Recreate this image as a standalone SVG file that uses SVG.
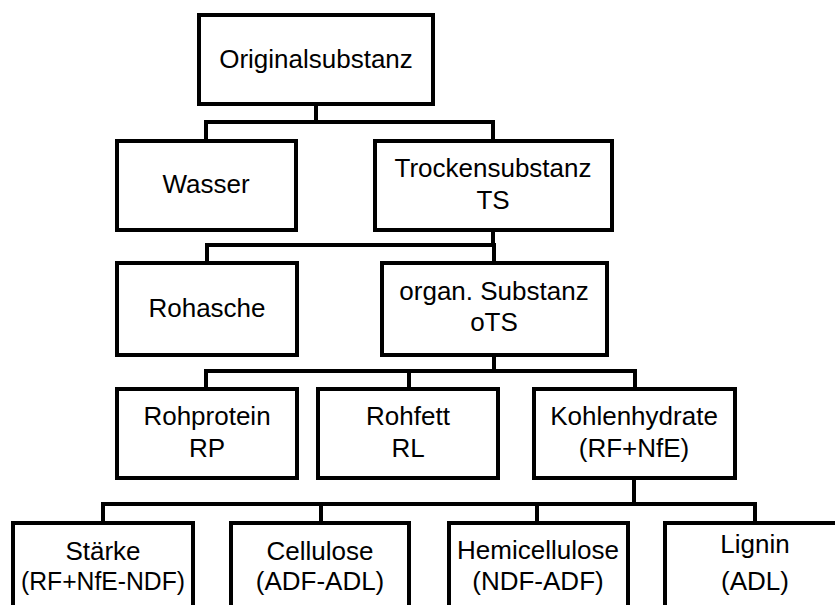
<svg xmlns="http://www.w3.org/2000/svg" width="835" height="605" viewBox="0 0 835 605">
<style>
.box{fill:#fff;stroke:#000;stroke-width:4;}
.con{fill:none;stroke:#000;stroke-width:4;stroke-linejoin:miter;}
text{font-family:"Liberation Sans",Arial,sans-serif;font-size:26px;fill:#000;text-anchor:middle;}
</style>
<rect width="835" height="605" fill="#fff"/>
<g id="connectors">
<path class="con" d="M316,104 V122 M206,141 V122 H493 V141"/>
<path class="con" d="M493,230 V245 M207,263 V245 H494 V263"/>
<path class="con" d="M494,355 V371 M206,389 V371 H635 V389 M409,371 V389"/>
<path class="con" d="M634,478 V504 M103,523 V504 H755 V523 M321,504 V523 M537,504 V523"/>
</g>
<g id="originalsubstanz"><rect class="box" x="199" y="15" width="234" height="89"/><text x="316" y="68">Originalsubstanz</text></g>
<g id="wasser"><rect class="box" x="117" y="141" width="179" height="89"/><text x="206" y="193">Wasser</text></g>
<g id="trockensubstanz"><rect class="box" x="375" y="141" width="237" height="89"/><text x="493" y="177">Trockensubstanz</text><text x="493" y="209">TS</text></g>
<g id="rohasche"><rect class="box" x="117" y="263" width="180" height="92"/><text x="207" y="317">Rohasche</text></g>
<g id="organ"><rect class="box" x="382" y="263" width="225" height="92"/><text x="494" y="300">organ. Substanz</text><text x="494" y="331">oTS</text></g>
<g id="rohprotein"><rect class="box" x="117" y="389" width="180" height="89"/><text x="207" y="425">Rohprotein</text><text x="207" y="457">RP</text></g>
<g id="rohfett"><rect class="box" x="318" y="389" width="180" height="89"/><text x="408" y="425">Rohfett</text><text x="408" y="457">RL</text></g>
<g id="kohlenhydrate"><rect class="box" x="534" y="389" width="201" height="89"/><text x="634" y="425">Kohlenhydrate</text><text x="634" y="457">(RF+NfE)</text></g>
<g id="staerke"><rect class="box" x="13" y="523" width="180" height="100"/><text x="103" y="560">Stärke</text><text x="103" y="590" textLength="164" lengthAdjust="spacingAndGlyphs">(RF+NfE-NDF)</text></g>
<g id="cellulose"><rect class="box" x="231" y="523" width="178" height="100"/><text x="320" y="560">Cellulose</text><text x="320" y="590">(ADF-ADL)</text></g>
<g id="hemicellulose"><rect class="box" x="449" y="523" width="179" height="100"/><text x="538" y="559">Hemicellulose</text><text x="538" y="590">(NDF-ADF)</text></g>
<g id="lignin"><rect class="box" x="665" y="523" width="190" height="100"/><text x="755" y="553">Lignin</text><text x="755" y="590">(ADL)</text></g>
</svg>
